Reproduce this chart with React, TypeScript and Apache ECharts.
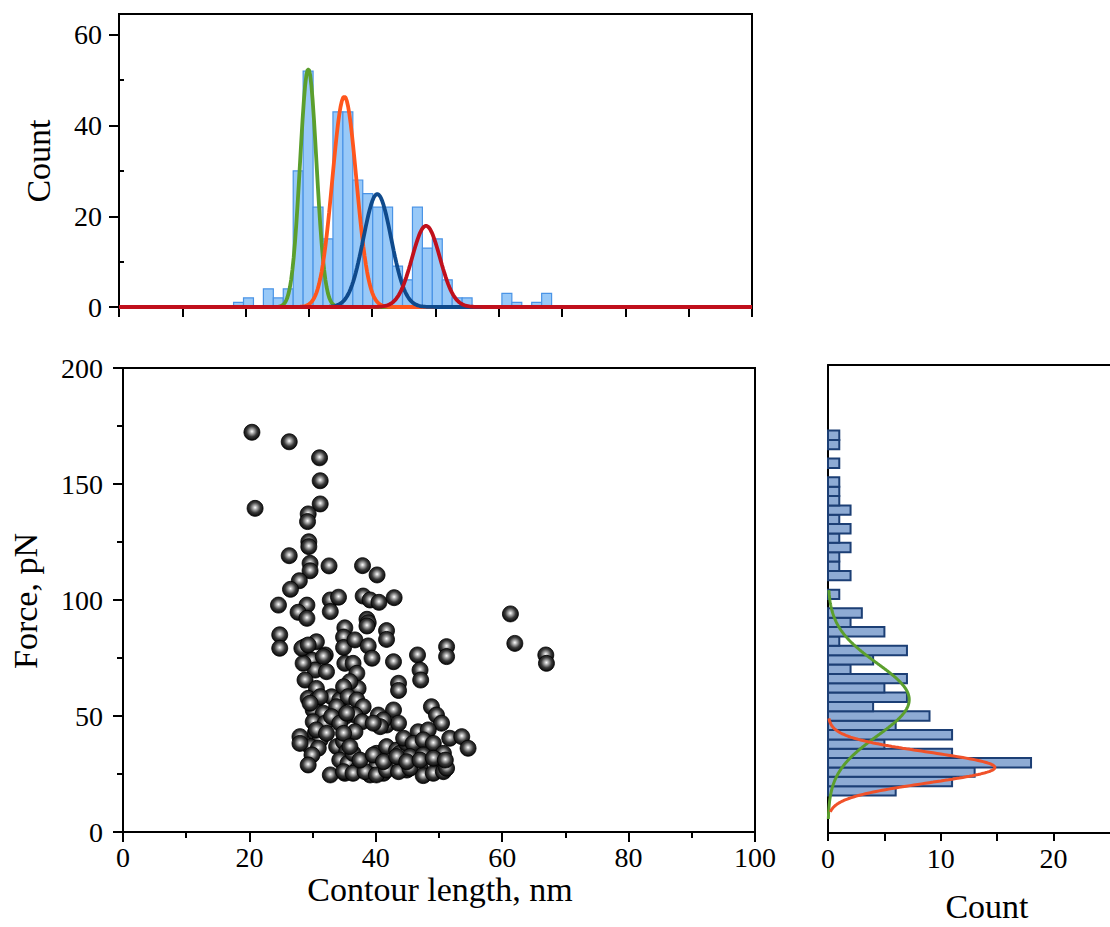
import React, { useEffect, useRef } from "react";
import * as echarts from "echarts";

// ---- Top histogram: contour length ----
const topBinStart = 18.1;
const topBinWidth = 1.57;
const topCounts = [1, 2, 0, 4, 2, 4, 30, 52, 22, 15, 43, 43, 28, 25, 22, 22, 9, 6, 22, 13, 15, 6, 2, 2, 0, 0, 0, 3, 1, 0, 1, 3];

// Gaussian fits (center nm, sigma nm, peak count)
const fitCenters = [29.9, 35.6, 40.8, 48.5];
const fitSigmas = [1.3, 1.9, 2.2, 2.2];
const fitHeights = [52.5, 46.4, 24.9, 17.9];
const fitColors = ["#5b9f2d", "#ff561c", "#0f4a8c", "#c0101c"];

// ---- Right histogram: force ----
const forceBinStart = 16;
const forceBinWidth = 4;
const forceCounts = [6, 11, 13, 18, 11, 5, 11, 6, 9, 4, 7, 5, 7, 2, 4, 7, 1, 5, 2, 3, 0, 1, 0, 2, 1, 1, 2, 1, 2, 1, 2, 1, 1, 1, 0, 1, 0, 1, 1];
const forceFitCenters = [57, 28];
const forceFitSigmas = [15.5, 6.5];
const forceFitHeights = [7.2, 14.8];
const forceFitRanges = [[6, 104], [9, 49]];
const forceFitColors = ["#5b9f2d", "#f0522a"];

// ---- Scatter: [contour length nm, force pN] ----
const scatterPoints: [number, number][] = [
  [20.4, 172.3], [26.3, 168.2], [31.1, 161.3], [31.2, 151.4], [20.9, 139.5], [31.2, 141.4],
  [29.3, 137.1], [29.2, 133.8], [29.4, 125.1], [29.4, 123.0], [26.3, 119.1], [29.6, 115.8],
  [29.6, 112.6], [32.6, 114.7], [37.9, 114.8], [40.2, 110.8], [27.9, 108.3], [26.5, 104.6],
  [24.6, 97.8], [29.1, 97.8], [27.7, 94.7], [29.1, 92.1], [32.8, 100.0], [34.1, 101.2],
  [32.8, 95.0], [38.0, 101.7], [39.1, 100.0], [40.5, 99.0], [42.9, 101.0], [38.6, 91.7],
  [38.8, 90.2], [38.6, 88.8], [35.1, 88.0], [41.7, 86.8], [41.7, 83.0], [24.8, 85.0],
  [24.8, 79.2], [34.9, 84.0], [34.9, 79.5], [36.7, 82.8], [38.8, 80.2], [39.4, 74.9],
  [42.8, 73.4], [43.6, 64.1], [43.6, 61.0], [28.8, 79.9], [30.6, 82.0], [32.0, 76.3],
  [29.9, 74.1], [30.4, 69.8], [32.2, 69.1], [28.5, 72.7], [28.8, 65.5], [30.6, 61.9],
  [29.3, 57.6], [30.6, 56.9], [33.0, 58.3], [34.3, 56.9], [35.1, 72.7], [36.4, 72.7],
  [37.0, 68.4], [37.2, 61.9], [35.9, 64.8], [34.9, 62.6], [35.6, 58.3], [37.0, 56.9],
  [38.0, 54.0], [36.7, 50.4], [35.1, 49.7], [37.8, 47.5], [36.7, 43.2], [30.1, 52.6],
  [31.7, 51.2], [30.1, 47.5], [32.0, 46.9], [30.4, 42.5], [31.2, 39.7], [28.0, 41.1],
  [29.6, 36.8], [30.9, 36.1], [29.9, 33.2], [29.3, 28.9], [28.0, 38.2], [33.8, 36.8],
  [34.9, 38.9], [35.4, 34.6], [34.3, 31.0], [35.6, 29.6], [36.4, 33.9], [35.1, 25.3],
  [37.0, 26.7], [38.6, 28.9], [40.1, 28.1], [39.1, 24.6], [40.1, 33.9], [41.7, 36.8],
  [43.3, 35.3], [41.2, 25.3], [40.4, 50.4], [41.7, 46.1], [42.8, 52.6], [43.6, 46.9],
  [40.9, 46.9], [43.8, 33.9], [44.4, 28.1], [44.9, 38.2], [61.3, 94.0], [62.0, 81.3],
  [66.9, 76.3], [67.0, 72.7], [51.2, 79.9], [51.2, 75.6], [46.6, 76.3], [47.0, 69.8],
  [47.1, 65.5], [48.8, 54.0], [49.6, 50.4], [50.4, 46.9], [46.7, 43.2], [48.3, 44.0],
  [51.7, 40.4], [53.6, 41.1], [54.6, 36.1], [44.4, 40.4], [45.9, 38.2], [47.5, 39.7],
  [49.1, 38.2], [50.7, 33.9], [45.4, 32.5], [47.5, 33.2], [49.6, 31.0], [50.9, 28.1],
  [43.3, 28.1], [44.9, 26.7], [47.0, 28.1], [47.5, 24.3], [49.1, 25.3], [50.7, 26.0],
  [32.8, 24.6], [34.9, 26.0], [36.4, 25.3], [38.3, 26.0], [40.1, 24.6], [41.7, 26.7],
  [43.6, 26.0], [45.4, 27.5], [51.2, 27.5], [37.5, 31.0], [39.6, 33.2], [41.2, 30.3],
  [43.3, 32.5], [44.9, 30.3], [47.0, 31.0], [49.1, 31.8], [51.0, 31.0], [28.3, 79.2],
  [29.3, 80.6], [31.7, 75.6], [31.2, 58.3], [29.6, 55.5], [30.6, 44.0], [32.2, 42.5],
  [33.8, 54.0], [33.0, 49.7], [34.3, 46.9], [35.4, 51.2], [34.9, 42.5], [35.9, 36.8],
  [41.2, 48.3], [40.7, 45.4], [39.6, 46.9],
];

// ---- Axis ticks ----
const topYLabels = [0, 20, 40, 60];
const topYMinor = [10, 30, 50];
const rightXLabels = [0, 10, 20];
const rightXTicks = [0, 5, 10, 15, 20];

const SERIF = '"Liberation Serif", "Times New Roman", serif';

function gauss(x: number, c: number, s: number, h: number) {
  return h * Math.exp(-((x - c) * (x - c)) / (2 * s * s));
}

export default function App() {
  const ref = useRef<HTMLDivElement>(null);

  useEffect(() => {
    document.body.style.margin = "0";
    if (!ref.current) return;
    const chart = echarts.init(ref.current, undefined, { renderer: "svg" });

    const topBars = topCounts
      .map((c, i) => [topBinStart + i * topBinWidth, topBinStart + (i + 1) * topBinWidth, c])
      .filter((d) => d[2] > 0);
    const forceBars = forceCounts
      .map((c, i) => [forceBinStart + i * forceBinWidth, forceBinStart + (i + 1) * forceBinWidth, c])
      .filter((d) => d[2] > 0);

    const topCurves = fitCenters.map((c, k) => {
      const pts: number[][] = [];
      for (let x = 0; x <= 100.001; x += 0.2) pts.push([x, gauss(x, c, fitSigmas[k], fitHeights[k])]);
      return {
        type: "line",
        xAxisIndex: 0,
        yAxisIndex: 0,
        data: pts,
        showSymbol: false,
        symbol: "none",
        silent: true,
        lineStyle: { color: fitColors[k], width: 3.8 },
        z: 5 + k,
      };
    });

    const rightCurves = forceFitCenters.map((c, k) => {
      const pts: number[][] = [];
      const [a, b] = forceFitRanges[k];
      for (let f = a; f <= b + 0.001; f += 0.25) pts.push([gauss(f, c, forceFitSigmas[k], forceFitHeights[k]), f]);
      return {
        type: "line",
        xAxisIndex: 2,
        yAxisIndex: 2,
        data: pts,
        showSymbol: false,
        symbol: "none",
        silent: true,
        lineStyle: { color: forceFitColors[k], width: 3 },
        z: 5 + k,
      };
    });

    const axisLine = { show: true, onZero: false, lineStyle: { color: "#000", width: 2 } };
    const labelStyle = { color: "#000", fontFamily: SERIF, fontSize: 28 };
    const titleStyle = (text: string) => ({
      text, font: `34px ${SERIF}`, fill: "#000",
      align: "center", verticalAlign: "middle", textAlign: "center", textVerticalAlign: "middle",
    });

    const option: any = {
      animation: false,
      backgroundColor: "#fff",
      grid: [
        { left: 119, top: 14, width: 633, height: 293, show: true, borderColor: "#000", borderWidth: 2, backgroundColor: "transparent" },
        { left: 123, top: 368, width: 632, height: 464, show: true, borderColor: "#000", borderWidth: 2, backgroundColor: "transparent" },
        { left: 828, top: 365, right: 0, height: 468 },
      ],
      xAxis: [
        {
          gridIndex: 0, type: "value", min: 0, max: 100, interval: 10,
          axisLine, axisTick: { show: true, length: 10, lineStyle: { color: "#000", width: 2 } },
          axisLabel: { show: false }, splitLine: { show: false },
        },
        {
          gridIndex: 1, type: "value", min: 0, max: 100, interval: 20,
          axisLine, axisTick: { show: true, length: 10, lineStyle: { color: "#000", width: 2 } },
          minorTick: { show: true, splitNumber: 2, length: 6, lineStyle: { color: "#000", width: 2 } },
          axisLabel: { ...labelStyle, margin: 11 }, splitLine: { show: false },
        },
        {
          gridIndex: 2, type: "value", min: 0, max: 25,
          axisLine, axisTick: { show: true, length: 8, customValues: rightXTicks, lineStyle: { color: "#000", width: 2 } },
          axisLabel: { ...labelStyle, margin: 11, customValues: rightXLabels }, splitLine: { show: false },
        },
        {
          gridIndex: 2, type: "value", min: 0, max: 25, position: "top",
          axisLine, axisTick: { show: false }, axisLabel: { show: false }, splitLine: { show: false },
        },
      ],
      yAxis: [
        {
          gridIndex: 0, type: "value", min: 0, max: 64.6,
          axisLine, axisTick: { show: true, length: 10, customValues: topYLabels, lineStyle: { color: "#000", width: 2 } },
          axisLabel: { ...labelStyle, margin: 17, customValues: topYLabels }, splitLine: { show: false },
        },
        {
          gridIndex: 1, type: "value", min: 0, max: 200, interval: 50,
          axisLine, axisTick: { show: true, length: 10, lineStyle: { color: "#000", width: 2 } },
          minorTick: { show: true, splitNumber: 2, length: 6, lineStyle: { color: "#000", width: 2 } },
          axisLabel: { ...labelStyle, margin: 20 }, splitLine: { show: false },
        },
        {
          gridIndex: 2, type: "value", min: 0, max: 200,
          axisLine, axisTick: { show: false }, axisLabel: { show: false }, splitLine: { show: false },
        },
        {
          gridIndex: 0, type: "value", min: 0, max: 64.6,
          axisLine: { show: false },
          axisTick: { show: true, length: 5, customValues: topYMinor, lineStyle: { color: "#000", width: 2 } },
          axisLabel: { show: false }, splitLine: { show: false },
        },
      ],
      graphic: [
        { type: "text", x: 38, y: 161, rotation: Math.PI / 2, style: titleStyle("Count") },
        { type: "text", x: 25, y: 601, rotation: Math.PI / 2, style: titleStyle("Force, pN") },
        { type: "text", x: 440, y: 889, style: titleStyle("Contour length, nm") },
        { type: "text", x: 987, y: 906, style: titleStyle("Count") },
      ],
      series: [
        {
          type: "custom",
          xAxisIndex: 0,
          yAxisIndex: 0,
          data: topBars,
          encode: { x: [0, 1], y: 2 },
          silent: true,
          z: 2,
          renderItem: (_p: any, api: any) => {
            const p0 = api.coord([api.value(0), 0]);
            const p1 = api.coord([api.value(1), api.value(2)]);
            return {
              type: "rect",
              shape: { x: p0[0], y: p1[1], width: p1[0] - p0[0], height: p0[1] - p1[1] },
              style: { fill: "#98c9f8", stroke: "#4a94e6", lineWidth: 1.2 },
            };
          },
        },
        ...topCurves,
        {
          type: "custom",
          xAxisIndex: 2,
          yAxisIndex: 2,
          data: forceBars,
          encode: { x: 2, y: [0, 1] },
          silent: true,
          z: 2,
          renderItem: (_p: any, api: any) => {
            const p0 = api.coord([0, api.value(0)]);
            const p1 = api.coord([api.value(2), api.value(1)]);
            return {
              type: "rect",
              shape: { x: p0[0], y: p1[1], width: p1[0] - p0[0], height: p0[1] - p1[1] },
              style: { fill: "#8eabd4", stroke: "#1c3f75", lineWidth: 2 },
            };
          },
        },
        ...rightCurves,
        {
          type: "scatter",
          xAxisIndex: 1,
          yAxisIndex: 1,
          data: scatterPoints,
          symbol: "circle",
          symbolSize: 16,
          silent: true,
          z: 3,
          itemStyle: {
            color: {
              type: "radial", x: 0.5, y: 0.45, r: 0.55,
              colorStops: [
                { offset: 0, color: "#ffffff" },
                { offset: 0.22, color: "#b4b4b4" },
                { offset: 0.6, color: "#383838" },
                { offset: 1, color: "#050505" },
              ],
            },
            borderColor: "#000",
            borderWidth: 0.8,
            opacity: 1,
          },
        },
      ],
    };

    chart.setOption(option);
    return () => chart.dispose();
  }, []);

  return <div ref={ref} style={{ width: 1110, height: 927, background: "#fff" }} />;
}
